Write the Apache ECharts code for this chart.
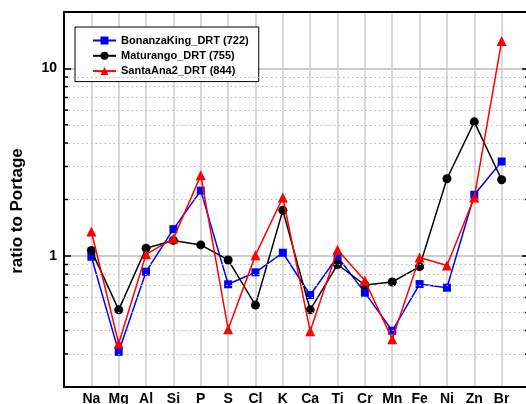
<!DOCTYPE html>
<html>
<head>
<meta charset="utf-8">
<script src="https://cdn.jsdelivr.net/npm/echarts@6/dist/echarts.min.js"></script>
<style>html,body{margin:0;padding:0;background:#fff;}#c{width:526px;height:404px;}</style>
</head>
<body>
<div id="c"></div>
<script>
var categories = ['Na','Mg','Al','Si','P','S','Cl','K','Ca','Ti','Cr','Mn','Fe','Ni','Zn','Br'];
var bonanzaKing = [0.99, 0.308, 0.824, 1.39, 2.23, 0.706, 0.818, 1.04, 0.619, 0.99, 0.637, 0.399, 0.708, 0.677, 2.12, 3.19];
var maturango  = [1.07, 0.516, 1.10, 1.21, 1.145, 0.952, 0.547, 1.75, 0.516, 0.90, 0.70, 0.726, 0.877, 2.58, 5.19, 2.55];
var santaAna2  = [1.35, 0.341, 1.02, 1.24, 2.69, 0.407, 1.01, 2.05, 0.397, 1.08, 0.738, 0.36, 0.98, 0.89, 2.05, 14.0];
var seriesNames = ['BonanzaKing_DRT (722)', 'Maturango_DRT (755)', 'SantaAna2_DRT (844)'];
var majorTicks = [1, 10];
var minorTicks = [0.3,0.4,0.5,0.6,0.7,0.8,0.9,2,3,4,5,6,7,8,9];
var yMin = 0.2, yMax = 20;

var FONT = "'Liberation Sans', Arial, sans-serif";
var padCats = [''].concat(categories).concat(['']);
function pad(a){ return [null].concat(a).concat([null]); }

var chart = echarts.init(document.getElementById('c'), null, {renderer:'canvas'});
var logAxisBase = {
  type: 'log', logBase: 10, min: yMin, max: yMax
};
chart.setOption({
  animation: false,
  backgroundColor: '#fff',
  grid: {left: 64, top: 12, width: 465, height: 375, containLabel: false, outerBoundsMode: 'none'},
  legend: {
    orient: 'vertical', left: 75, top: 27,
    data: seriesNames,
    backgroundColor: '#fff', borderColor: '#000', borderWidth: 1, borderRadius: 0,
    padding: [8, 10, 5, 17],
    itemWidth: 23, itemHeight: 10, itemGap: 4.3,
    textStyle: {fontFamily: FONT, fontWeight: 'bold', fontSize: 11, color: '#000'}
  },
  xAxis: [{
    type: 'category', data: padCats, boundaryGap: false,
    axisLine: {lineStyle: {color: '#000', width: 2}},
    axisTick: {show: false},
    axisLabel: {interval: 0, margin: 5, color: '#000', fontFamily: FONT, fontWeight: 'bold', fontSize: 14},
    splitLine: {show: true, interval: 0, lineStyle: {color: '#cccccc', width: 1.5}}
  }, {
    type: 'category', data: padCats, boundaryGap: false, position: 'top',
    axisLine: {lineStyle: {color: '#000', width: 2}},
    axisTick: {show: false}, axisLabel: {show: false}, splitLine: {show: false}
  }],
  yAxis: [Object.assign({}, logAxisBase, {
    position: 'left',
    axisLine: {show: true, lineStyle: {color: '#000', width: 2}},
    axisTick: {show: true, inside: true, length: 7, lineStyle: {color: '#000', width: 1.5}},
    axisLabel: {
      margin: 7, color: '#000', fontFamily: FONT, fontWeight: 'bold', fontSize: 14,
      formatter: function(v){ return majorTicks.indexOf(Math.round(v*1000)/1000) >= 0 ? String(Math.round(v)) : ''; }
    },
    splitLine: {show: true, lineStyle: {color: '#bbbbbb', width: 1.5}},
    minorTick: {show: false}
  }), Object.assign({}, logAxisBase, {
    position: 'right',
    axisLine: {show: true, lineStyle: {color: '#000', width: 2}},
    axisTick: {show: true, inside: true, length: 7, lineStyle: {color: '#000', width: 1.5}},
    axisLabel: {show: false},
    splitLine: {show: false}
  })],
  graphic: [{
    type: 'text', x: 17, y: 211, rotation: Math.PI/2,
    style: {text: 'ratio to Portage', font: "bold 17px 'Liberation Sans', Arial, sans-serif",
      fill: '#000', textAlign: 'center', textVerticalAlign: 'middle'}
  }],
  series: [{
    type: 'line', name: '_grid', data: pad(categories.map(function(){return null;})), z: 1,
    silent: true, symbol: 'none',
    markLine: {
      silent: true, symbol: 'none', label: {show: false}, animation: false,
      lineStyle: {color: '#b8b8b8', width: 1, type: [1.5, 3]},
      data: minorTicks.map(function(v){ return {yAxis: v}; })
    }
  }, {
    type: 'custom', name: '_minorTicks', silent: true, z: 5,
    data: minorTicks.map(function(v){ return [1, v]; }),
    encode: {x: 0, y: 1},
    renderItem: function(params, api){
      var cs = params.coordSys;
      var y = api.coord([1, api.value(1)])[1];
      var st = {stroke: '#000', lineWidth: 1.5};
      return {type: 'group', children: [
        {type: 'line', shape: {x1: cs.x, y1: y, x2: cs.x + 4, y2: y}, style: st},
        {type: 'line', shape: {x1: cs.x + cs.width - 4, y1: y, x2: cs.x + cs.width, y2: y}, style: st}
      ]};
    }
  }, {
    type: 'line', name: seriesNames[0], data: pad(bonanzaKing), z: 3,
    symbol: 'rect', symbolSize: 8,
    itemStyle: {color: '#0000ff'}, lineStyle: {color: '#0000ff', width: 1.5}
  }, {
    type: 'line', name: seriesNames[1], data: pad(maturango), z: 4,
    symbol: 'circle', symbolSize: 9,
    itemStyle: {color: '#000000'}, lineStyle: {color: '#000000', width: 1.5}
  }, {
    type: 'line', name: seriesNames[2], data: pad(santaAna2), z: 5,
    symbol: 'triangle', symbolSize: 10,
    itemStyle: {color: '#ff0000'}, lineStyle: {color: '#ff0000', width: 1.5}
  }]
});
</script>
</body>
</html>
